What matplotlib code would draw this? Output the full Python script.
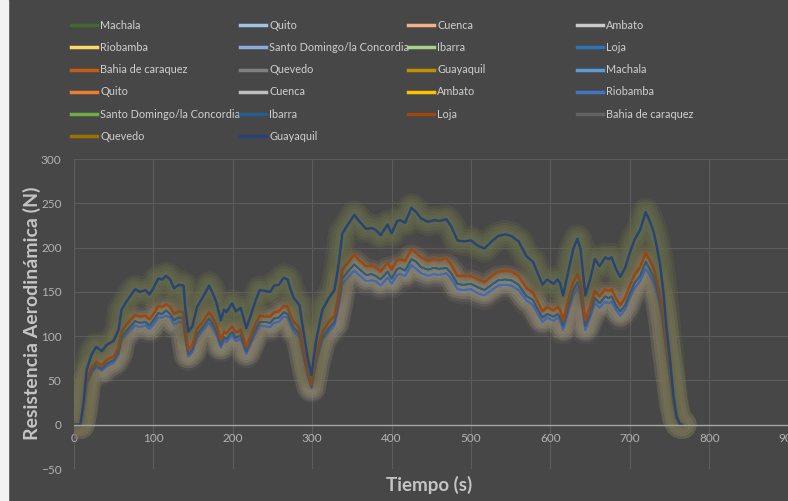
import matplotlib
matplotlib.use("Agg")
import matplotlib.pyplot as plt
from matplotlib.lines import Line2D
from matplotlib.patches import Rectangle

plt.rcParams['font.family'] = ['Lato', 'DejaVu Sans']

# tiempo (s) de cada lectura
tiempo = [0, 8, 12, 16, 22, 28, 35, 41, 50, 56, 60, 66, 77, 83, 90, 95, 100, 106, 111, 116,
          121, 126, 132, 138, 140, 144, 149, 155, 163, 170, 174, 179, 185, 189, 192, 199, 204, 210, 213, 217,
          222, 229, 234, 241, 247, 252, 258, 264, 269, 273, 277, 284, 288, 294, 299, 305, 310, 313, 321, 328,
          333, 338, 345, 353, 359, 368, 375, 380, 386, 395, 400, 407, 411, 417, 425, 431, 437, 446, 453, 460,
          469, 475, 483, 490, 500, 509, 517, 526, 534, 543, 551, 560, 570, 578, 585, 590, 596, 604, 609, 612,
          616, 623, 629, 634, 638, 644, 650, 656, 662, 669, 673, 677, 683, 688, 694, 700, 706, 713, 720, 725,
          730, 734, 738, 742, 746, 751, 755, 759, 763, 766]

# costa (Guayaquil, Machala, Bahia, Quevedo, Santo Domingo)
fuerza_costa = [0, 0, 25, 62, 79, 88, 83, 90, 95, 107, 130, 139, 153, 150, 152, 147, 154, 165, 164, 168,
                164, 154, 158, 157, 133, 105, 111, 133, 145, 157, 150, 139, 118, 130, 127, 137, 128, 132, 122, 109,
                122, 141, 152, 151, 150, 157, 158, 166, 164, 152, 143, 135, 111, 77, 56, 95, 118, 130, 143, 152,
                179, 216, 226, 237, 230, 221, 222, 220, 214, 226, 216, 230, 231, 228, 245, 240, 233, 229, 231, 230,
                232, 224, 208, 207, 208, 202, 199, 207, 213, 215, 213, 207, 190, 184, 169, 158, 164, 159, 164, 160,
                146, 175, 199, 210, 198, 146, 164, 187, 179, 189, 187, 189, 175, 167, 177, 194, 209, 220, 240, 230,
                218, 201, 182, 152, 111, 70, 32, 9, 1, 0]

# Loja
fuerza_loja = [0, 0, 20, 50, 64, 71, 67, 73, 77, 87, 105, 113, 124, 122, 123, 119, 125, 134, 133, 136,
               133, 125, 128, 127, 108, 85, 90, 108, 117, 127, 122, 113, 96, 105, 103, 111, 104, 107, 99, 88,
               99, 114, 123, 122, 122, 127, 128, 134, 133, 123, 116, 109, 90, 62, 45, 77, 96, 105, 116, 123,
               145, 175, 183, 192, 186, 179, 180, 178, 173, 183, 175, 186, 187, 185, 198, 194, 189, 185, 187, 186,
               188, 181, 168, 168, 168, 164, 161, 168, 173, 174, 173, 168, 154, 149, 137, 128, 133, 129, 133, 130,
               118, 142, 161, 170, 160, 118, 133, 151, 145, 153, 151, 153, 142, 135, 143, 157, 169, 178, 194, 186,
               177, 163, 147, 123, 90, 57, 26, 7, 1, 0]

# Ibarra, Cuenca, Ambato
fuerza_sierra = [0, 0, 19, 47, 60, 67, 63, 69, 73, 82, 99, 106, 117, 115, 116, 112, 118, 126, 125, 129,
                 125, 118, 121, 120, 102, 80, 85, 102, 111, 120, 115, 106, 90, 99, 97, 105, 98, 101, 93, 83,
                 93, 108, 116, 116, 115, 120, 121, 127, 125, 116, 109, 103, 85, 59, 43, 73, 90, 99, 109, 116,
                 137, 165, 173, 181, 176, 169, 170, 168, 164, 173, 165, 176, 177, 174, 187, 184, 178, 175, 177, 176,
                 177, 171, 159, 158, 159, 155, 152, 158, 163, 164, 163, 158, 145, 141, 129, 121, 125, 122, 125, 122,
                 112, 134, 152, 161, 151, 112, 125, 143, 137, 145, 143, 145, 134, 128, 135, 148, 160, 168, 184, 176,
                 167, 154, 139, 116, 85, 54, 24, 7, 1, 0]

# Riobamba, Quito
fuerza_sierra_alta = [0, 0, 18, 46, 58, 65, 61, 66, 70, 79, 96, 102, 112, 110, 112, 108, 113, 121, 121, 123,
                      121, 113, 116, 115, 98, 77, 82, 98, 107, 115, 110, 102, 87, 96, 93, 101, 94, 97, 90, 80,
                      90, 104, 112, 111, 110, 115, 116, 122, 121, 112, 105, 99, 82, 57, 41, 70, 87, 96, 105, 112,
                      132, 159, 166, 174, 169, 162, 163, 162, 157, 166, 159, 169, 170, 168, 180, 176, 171, 168, 170, 169,
                      171, 165, 153, 152, 153, 148, 146, 152, 157, 158, 157, 152, 140, 135, 124, 116, 121, 117, 121, 118,
                      107, 129, 146, 154, 146, 107, 121, 137, 132, 139, 137, 139, 129, 123, 130, 143, 154, 162, 176, 169,
                      160, 148, 134, 112, 82, 51, 24, 7, 1, 0]

perfiles = {
    "Machala": fuerza_costa, "Quito": fuerza_sierra_alta, "Cuenca": fuerza_sierra,
    "Ambato": fuerza_sierra, "Riobamba": fuerza_sierra_alta,
    "Santo Domingo/la Concordia": fuerza_costa, "Ibarra": fuerza_sierra, "Loja": fuerza_loja,
    "Bahia de caraquez": fuerza_costa, "Quevedo": fuerza_costa, "Guayaquil": fuerza_costa,
}

ciudades = ["Machala", "Quito", "Cuenca", "Ambato", "Riobamba", "Santo Domingo/la Concordia",
            "Ibarra", "Loja", "Bahia de caraquez", "Quevedo", "Guayaquil"] * 2

colores = ["#43682b", "#9dc3e6", "#f4b183", "#c9c9c9", "#ffd966", "#8faadc",
           "#a9d18e", "#2e75b6", "#c55a11", "#7f7f7f", "#bf9000",
           "#5b9bd5", "#ed7d31", "#bfbfbf", "#ffc000", "#4472c4",
           "#70ad47", "#255e91", "#9e480e", "#636363", "#997300", "#264478"]

fondo = "#474747"
W, H = 788, 501
fig = plt.figure(figsize=(W / 100, H / 100), dpi=100, facecolor=fondo)
fig.patches.append(Rectangle((0, 0), 8 / W, 1, transform=fig.transFigure, color="#f2f2f2", zorder=0))

ax = fig.add_axes([74 / W, 32 / H, 714.6 / W, 310 / H])
ax.set_facecolor(fondo)

# lineas con efecto de brillo (capas suaves)
brillo = [(21, 0.028), (17, 0.034), (13, 0.042), (9, 0.05), (5, 0.055)]
for nombre, color in zip(ciudades, colores):
    y = perfiles[nombre]
    for ancho, alfa in brillo:
        ax.plot(tiempo, y, color=color, lw=ancho, alpha=alfa,
                solid_capstyle="round", solid_joinstyle="round")
    ax.plot(tiempo, y, color=color, lw=1.8, solid_capstyle="round", solid_joinstyle="round")

ax.set_xlim(0, 900)
ax.set_ylim(-50, 300)
ax.set_xticks(range(0, 901, 100))
ax.set_yticks(range(-50, 301, 50))
ax.grid(True, color="#5c5c5c", lw=0.8)
ax.set_axisbelow(True)
for s in ["top", "right", "left"]:
    ax.spines[s].set_visible(False)
ax.spines["bottom"].set_position(("data", 0))
ax.spines["bottom"].set_color("#a6a6a6")
ax.spines["bottom"].set_linewidth(1)
ax.tick_params(axis="both", length=0, labelsize=8.5, labelcolor="#b3b3b3")
ax.tick_params(axis="x", pad=6)
ax.tick_params(axis="y", pad=9)

fig.text(32 / W, 1 - 313 / H, "Resistencia Aerodinámica (N)", rotation=90, ha="center", va="center",
         fontsize=14, fontweight="bold", color="#c4c4c4")
fig.text(429 / W, 1 - 485 / H, "Tiempo (s)", ha="center", va="center",
         fontsize=13.5, fontweight="bold", color="#c4c4c4")

# leyenda en 4 columnas (orden por filas como en el original)
handles = [Line2D([0], [0], color=c, lw=2.5) for c in colores]
col_x = [71, 240, 408, 577]
for c in range(4):
    idx = list(range(c, len(ciudades), 4))
    fig.legend([handles[i] for i in idx], [ciudades[i] for i in idx],
               loc="upper left", bbox_to_anchor=(col_x[c] / W, 1 - 20 / H),
               frameon=False, fontsize=7.8, handlelength=2.4, handletextpad=0.3,
               labelspacing=1.03, borderpad=0, borderaxespad=0, labelcolor="#d0d0d0")

fig.savefig("out.png", dpi=100, facecolor=fondo)
